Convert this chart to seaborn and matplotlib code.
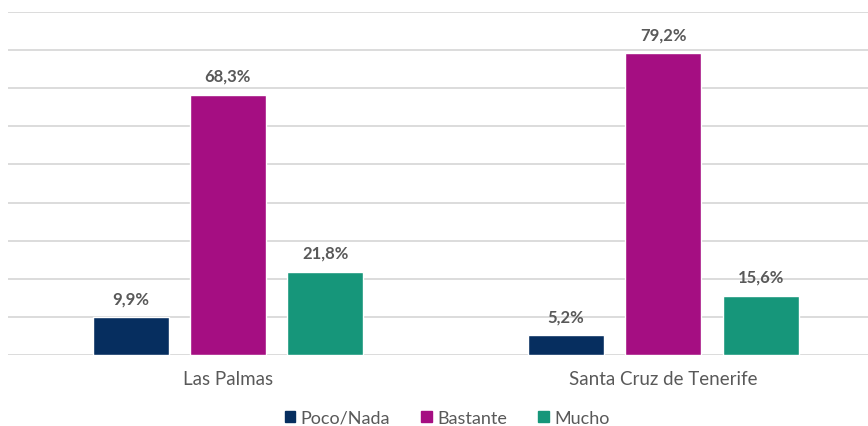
import pandas as pd
import matplotlib.pyplot as plt
import seaborn as sns

# Chart data
regions = ['Las Palmas', 'Santa Cruz de Tenerife']
levels = ['Poco/Nada', 'Bastante', 'Mucho']
poco_nada = [9.9, 5.2]
bastante = [68.3, 79.2]
mucho = [21.8, 15.6]
colors = ['#062E5F', '#A50E82', '#16967A']

df = pd.DataFrame({
    'Region': regions * 3,
    'Nivel': [levels[0]] * 2 + [levels[1]] * 2 + [levels[2]] * 2,
    'Pct': poco_nada + bastante + mucho,
})

sns.set_style('white')
plt.rcParams['font.family'] = ['Lato', 'DejaVu Sans']

fig = plt.figure(figsize=(8.68, 4.27), dpi=100)
ax = fig.add_axes([8 / 868, 1 - 356 / 427, 860 / 868, (356 - 13) / 427])

sns.barplot(data=df, x='Region', y='Pct', hue='Nivel', hue_order=levels,
            palette=colors, width=0.67, gap=0.22, saturation=1, ax=ax,
            legend=False)

for container in ax.containers:
    ax.bar_label(container, labels=[f'{v:.1f}%'.replace('.', ',') for v in container.datavalues],
                 padding=8, fontsize=12, fontweight='bold', color='#595959')

ax.set_ylim(0, 90)
ax.set_xlim(-0.505, 1.47)
ax.set_yticks(range(0, 91, 10))
ax.yaxis.grid(True, color='#D9D9D9', linewidth=1.3)
ax.set_axisbelow(True)
ax.tick_params(axis='y', left=False, labelleft=False)
ax.tick_params(axis='x', length=0, pad=11, labelsize=13.5, labelcolor='#595959')
ax.set_xlabel('')
ax.set_ylabel('')
for s in ax.spines.values():
    s.set_visible(False)

handles = [plt.Rectangle((0, 0), 1, 1, color=c) for c in colors]
fig.legend(handles, levels, loc='center', bbox_to_anchor=(0.515, 1 - 419 / 427),
           ncol=3, frameon=False, fontsize=13, labelcolor='#595959',
           handlelength=0.6, handleheight=0.6, handletextpad=0.3, columnspacing=1.7)

fig.savefig('out.png', dpi=100)
